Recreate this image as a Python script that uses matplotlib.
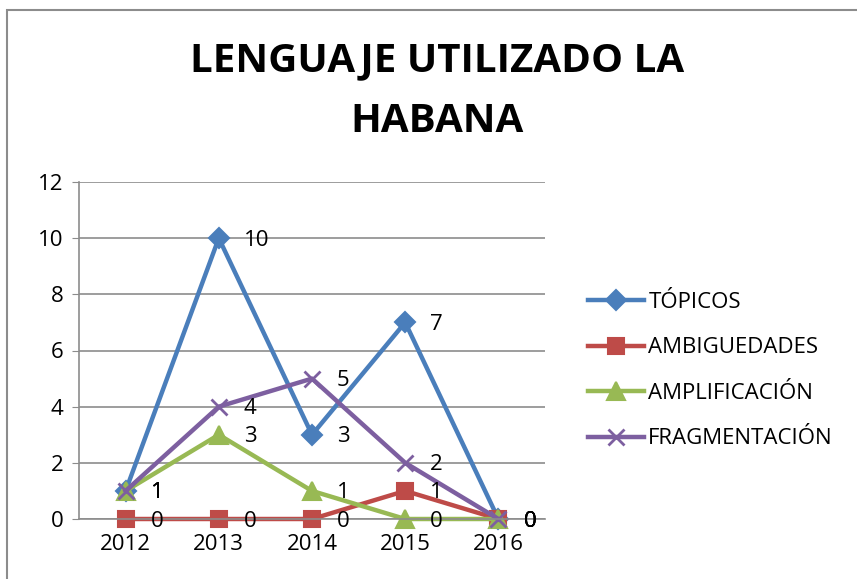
import matplotlib.pyplot as plt
from matplotlib.patches import Rectangle

years = ["2012", "2013", "2014", "2015", "2016"]
topicos = [1, 10, 3, 7, 0]
ambiguedades = [0, 0, 0, 1, 0]
amplificacion = [1, 3, 1, 0, 0]
fragmentacion = [1, 4, 5, 2, 0]

series = [
    ("TÓPICOS", topicos, "#4a7ebb", "D", 10),
    ("AMBIGUEDADES", ambiguedades, "#be4b48", "s", 12),
    ("AMPLIFICACIÓN", amplificacion, "#98b954", "^", 13),
    ("FRAGMENTACIÓN", fragmentacion, "#7d5fa0", "x", 12),
]

plt.rcParams["font.family"] = ["Open Sans", "DejaVu Sans"]

fig = plt.figure(figsize=(8.57, 5.79), dpi=100)
fig.patches.append(Rectangle((7 / 857, -0.1), 1.2, 1 - 10 / 579 + 0.1,
                             transform=fig.transFigure, fill=False,
                             edgecolor="#8c8c8c", linewidth=1.5))

ax = fig.add_axes([79 / 857, 1 - 519 / 579, 466 / 857, (519 - 182) / 579])
x = list(range(len(years)))
for name, vals, color, marker, ms in series:
    ax.plot(x, vals, color=color, linewidth=3.2, marker=marker, markersize=ms,
            markeredgewidth=1.5 if marker != "x" else 2, label=name, clip_on=False)
    for xi, v in zip(x, vals):
        ax.annotate(str(v), (xi, v), xytext=(18, -1.5), textcoords="offset points",
                    va="center", ha="left", fontsize=16)

ax.set_xlim(-0.5, 4.5)
ax.set_ylim(0, 12)
ax.set_yticks(range(0, 13, 2))
ax.set_xticks(x)
ax.set_xticklabels(years)
ax.tick_params(axis="both", labelsize=16, colors="black")
ax.tick_params(axis="x", length=0, pad=11)
ax.tick_params(axis="y", length=5, color="#8c8c8c", pad=6)
ax.grid(axis="y", color="#8c8c8c", linewidth=1.2)
ax.set_axisbelow(True)
for s in ["top", "right"]:
    ax.spines[s].set_visible(False)
for s in ["left", "bottom"]:
    ax.spines[s].set_color("#8c8c8c")
    ax.spines[s].set_linewidth(1.2)

fig.text(0.51, 0.895, "LENGUAJE UTILIZADO LA", ha="center", va="center",
         fontsize=29, fontweight="bold")
fig.text(0.51, 0.79, "HABANA", ha="center", va="center",
         fontsize=29, fontweight="bold")

ax.legend(loc="center left", bbox_to_anchor=(1.05, 0.44), frameon=False,
          fontsize=16, handlelength=2.5, handletextpad=0.2, labelspacing=1.1)

fig.savefig("out.png", dpi=100)
